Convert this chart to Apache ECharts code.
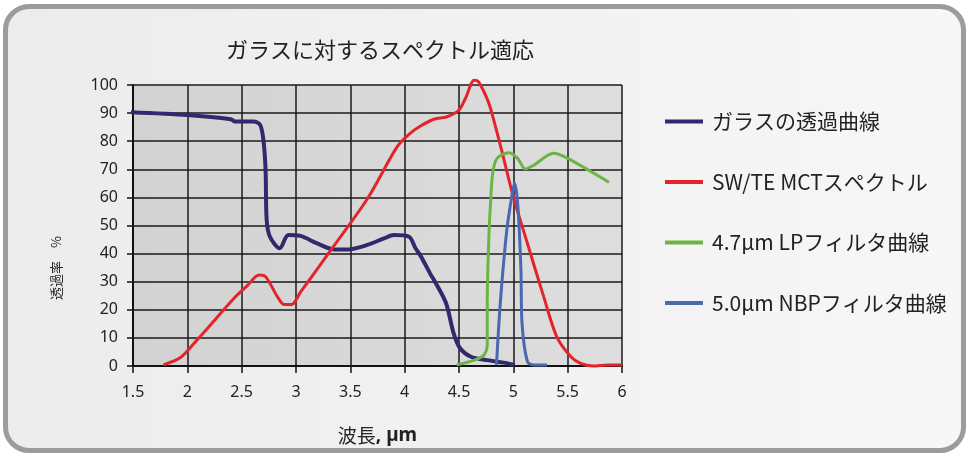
<!DOCTYPE html>
<html>
<head>
<meta charset="utf-8">
<script src="https://cdn.jsdelivr.net/npm/echarts@6/dist/echarts.min.js"></script>
<style>
    html, body { margin: 0; padding: 0; background: #ffffff; }
    .frame {
        position: absolute;
        left: 3px; top: 4px;
        width: 953px; height: 439px;
        border: 5px solid #9b9ba0;
        border-radius: 26px;
        background: linear-gradient(to right, #ececec, #f7f7f7);
        overflow: hidden;
    }
    #chart { position: absolute; left: -8px; top: -9px; width: 969px; height: 455px; }
</style>
</head>
<body>
<div class="frame"><div id="chart"></div></div>
<script>
// wavelength (µm) / transmission (%) pairs
const glass = [
    [1.47, 90.3], [2.0, 89.3], [2.4, 87.8], [2.44, 87], [2.61, 87], [2.67, 85.8],
    [2.70, 80.4], [2.72, 69.8], [2.73, 52], [2.76, 46], [2.85, 41.9], [2.93, 46.6],
    [3.04, 46.3], [3.19, 43.7], [3.35, 41.5], [3.48, 41.5], [3.65, 43], [3.81, 45.4],
    [3.90, 46.6], [4.04, 46], [4.10, 41.9], [4.15, 39], [4.24, 32.5], [4.27, 30.6],
    [4.38, 22.4], [4.45, 11.7], [4.51, 6.3], [4.61, 3.3], [4.76, 2.1], [4.91, 1.2], [5.01, 0.4]
];
const mct = [
    [1.78, 0.4], [1.94, 3.1], [2.09, 9.3], [2.24, 15.8], [2.43, 24.1], [2.55, 28.5],
    [2.66, 32.4], [2.72, 31.8], [2.83, 24.6], [2.89, 21.9], [2.96, 21.9], [3.04, 26.2],
    [3.35, 42.8], [3.66, 59.7], [3.93, 78], [4.05, 82.8], [4.15, 85.5], [4.27, 87.8],
    [4.39, 88.7], [4.5, 91.1], [4.56, 95.3], [4.64, 101.7], [4.68, 101.1], [4.77, 94],
    [4.82, 87.5], [4.90, 75.6], [5.0, 60.2], [5.13, 43.6], [5.28, 24.6], [5.40, 10.4],
    [5.53, 3.3], [5.62, 0.9], [5.73, 0], [5.87, 0.4], [6.0, 0.4]
];
const lp47 = [
    [4.48, 0.4], [4.64, 2.1], [4.73, 3.9], [4.76, 8], [4.76, 22.4], [4.775, 46],
    [4.79, 57.9], [4.81, 68.6], [4.85, 73.9], [4.96, 75.9], [5.04, 73.9], [5.11, 70.1],
    [5.19, 71.5], [5.37, 75.7], [5.50, 73.9], [5.88, 65.4]
];
const nbp50 = [
    [4.845, 0.4], [4.88, 22.4], [4.94, 48.4], [4.99, 61.4], [5.01, 65], [5.04, 57.9],
    [5.07, 34.2], [5.08, 15.2], [5.13, 1.5], [5.19, 0.4], [5.31, 0.4]
];
const seriesNames = ['ガラスの透過曲線', 'SW/TE MCTスペクトル', '4.7µm LPフィルタ曲線', '5.0µm NBPフィルタ曲線'];
const seriesColors = ['#2f2a6d', '#e3252b', '#6cb545', '#4a67b1'];
const seriesWidths = [4, 3, 3, 3];

const font = "'Noto Sans', sans-serif";
const cjk = "'Noto Sans CJK JP', sans-serif";

const chart = echarts.init(document.getElementById('chart'));
const dataSets = [glass, mct, lp47, nbp50];

chart.setOption({
    animation: false,
    title: {
        text: 'ガラスに対するスペクトル適応',
        left: 375, top: 34, textAlign: 'center',
        textStyle: { fontFamily: cjk, fontSize: 22, fontWeight: 'normal', color: '#222' }
    },
    legend: {
        orient: 'vertical',
        left: 660, top: 106,
        itemGap: 39.5,
        itemWidth: 38, itemHeight: 4,
        icon: 'rect',
        data: seriesNames,
        textStyle: { fontFamily: cjk, fontSize: 21, color: '#222', padding: [0, 0, 0, 4] }
    },
    graphic: [{
        type: 'text',
        left: 50, top: 236,
        style: {
            text: '透過率　%',
            fontFamily: cjk, fontSize: 13, fill: '#222'
        },
        rotation: Math.PI / 2,
        originX: 0, originY: 0
    }],
    grid: {
        left: 133, right: 347, top: 85, bottom: 89,
        show: true,
        borderWidth: 0,
        backgroundColor: new echarts.graphic.LinearGradient(0, 0, 1, 0, [
            { offset: 0, color: '#d2d2d2' },
            { offset: 1, color: '#dedede' }
        ])
    },
    xAxis: {
        type: 'value',
        min: 1.5, max: 6, interval: 0.5,
        name: '{n|波長}{b|, µm}',
        nameLocation: 'middle', nameGap: 60,
        nameTextStyle: {
            rich: {
                n: { fontFamily: cjk, fontSize: 19, color: '#222' },
                b: { fontFamily: font, fontSize: 19, fontWeight: 'bold', color: '#222' }
            }
        },
        axisLine: { show: true, lineStyle: { color: '#111', width: 2 } },
        axisTick: { show: true, length: 7, lineStyle: { color: '#111', width: 1.5 } },
        axisLabel: { fontFamily: font, fontSize: 16, color: '#222', margin: 18 },
        splitLine: { show: true, lineStyle: { color: '#1a1a1a', width: 1.5 } }
    },
    yAxis: {
        type: 'value',
        min: 0, max: 100, interval: 10,
        axisLine: { show: true, lineStyle: { color: '#111', width: 2 } },
        axisTick: { show: true, length: 6, lineStyle: { color: '#111', width: 1.5 } },
        axisLabel: { fontFamily: font, fontSize: 16, color: '#222', margin: 15 },
        splitLine: { show: true, lineStyle: { color: '#1a1a1a', width: 1.5 } }
    },
    series: dataSets.map((d, i) => ({
        name: seriesNames[i],
        type: 'line',
        data: d,
        showSymbol: false,
        smooth: 0.3,
        clip: false,
        color: seriesColors[i],
        lineStyle: { color: seriesColors[i], width: seriesWidths[i] }
    }))
});
</script>
</body>
</html>
